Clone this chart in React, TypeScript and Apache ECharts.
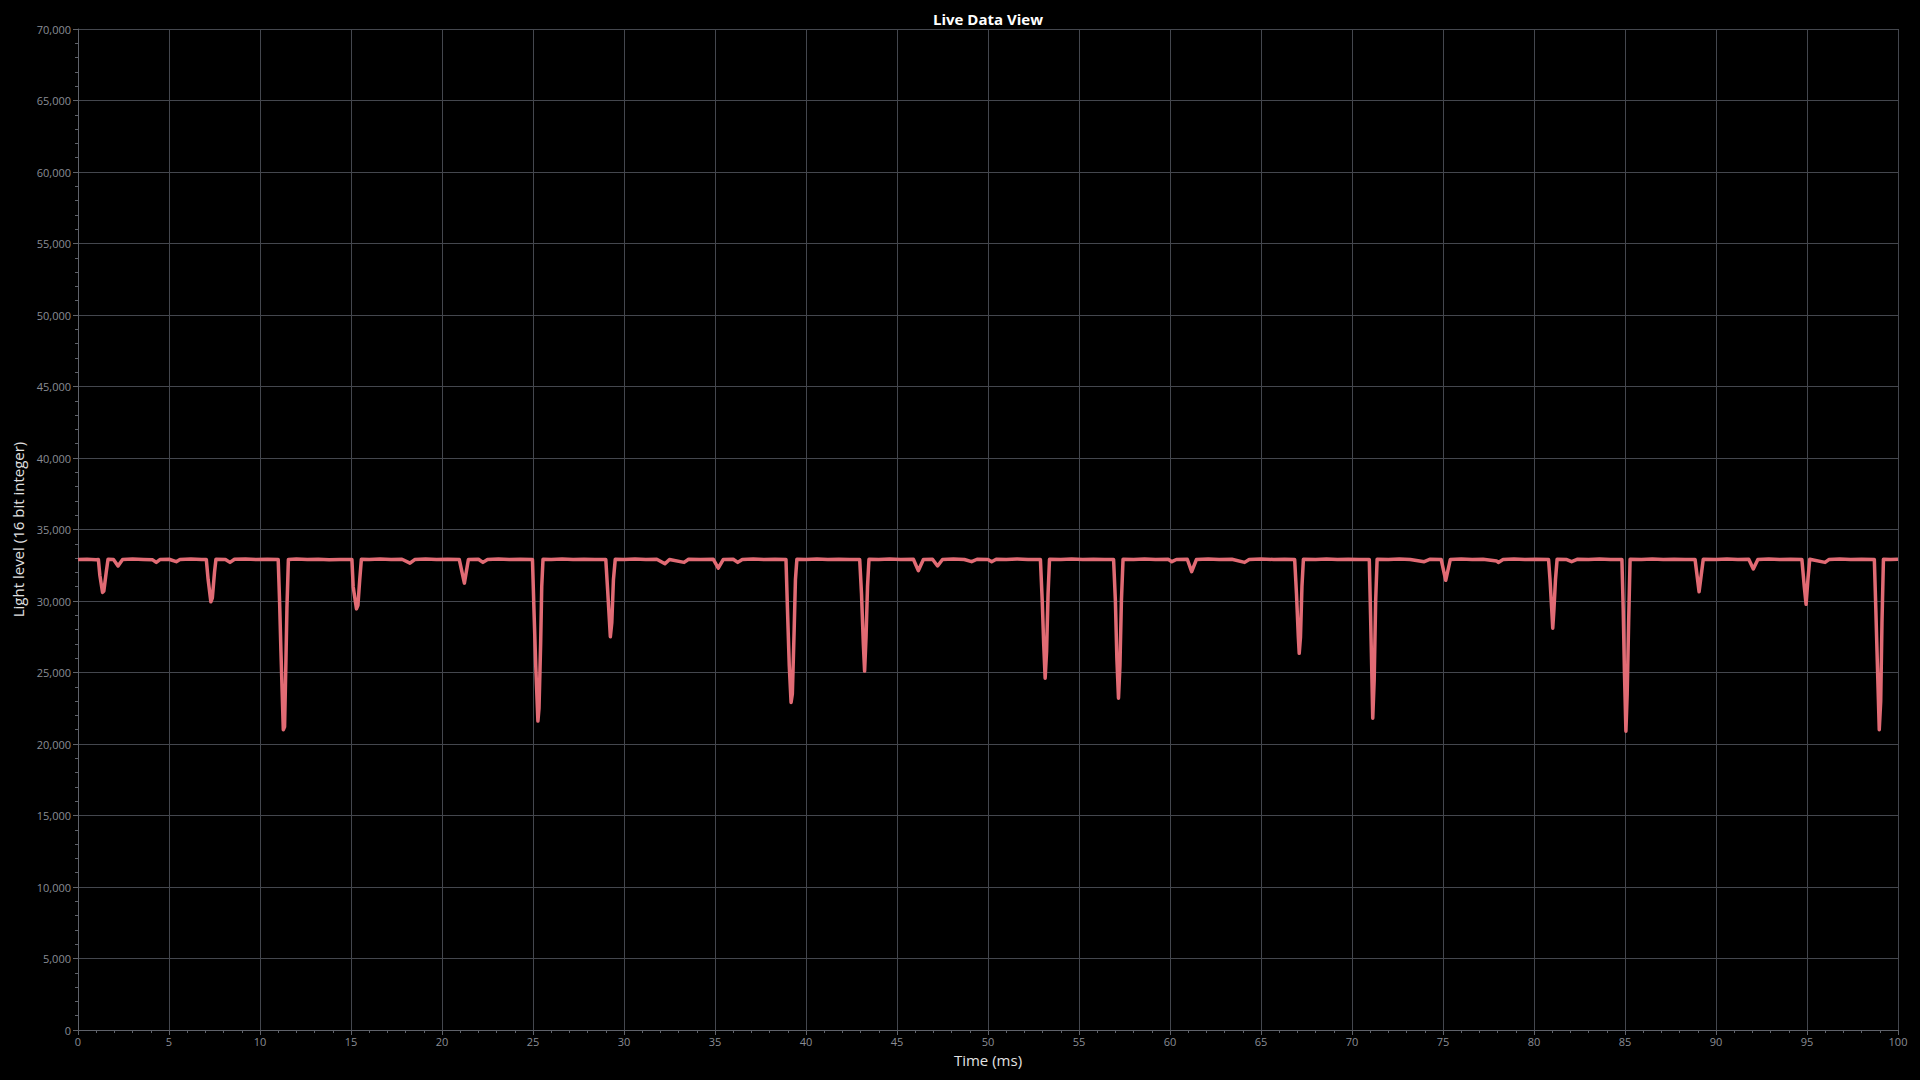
import React, { useEffect, useRef } from "react";
import * as echarts from "echarts";

const chartTitle = "Live Data View";
const xAxisName = "Time (ms)";
const yAxisName = "Light level (16 bit integer)";

// Samples: [time (ms), light level]
const timeMs: number[] = [
  0.0, 0.5, 1.0, 1.12, 1.2, 1.35, 1.42, 1.55, 1.65, 1.95, 2.2, 2.45, 3.0, 3.6, 4.1, 4.3, 4.5, 5.0, 5.4, 5.6,
  6.2, 6.8, 7.05, 7.15, 7.3, 7.38, 7.5, 7.58, 8.1, 8.35, 8.6, 9.2, 9.8, 10.4, 11.0, 11.08, 11.15, 11.28, 11.35, 11.42,
  11.48, 11.56, 12.0, 12.6, 13.2, 13.8, 14.4, 15.05, 15.12, 15.3, 15.38, 15.48, 15.57, 16.0, 16.6, 17.2, 17.8, 18.24, 18.5, 19.1,
  19.7, 20.3, 20.95, 21.23, 21.45, 22.0, 22.25, 22.5, 23.1, 23.7, 24.3, 24.97, 25.05, 25.15, 25.27, 25.33, 25.42, 25.48, 25.55, 26.0,
  26.6, 27.2, 27.8, 28.4, 29.0, 29.1, 29.25, 29.33, 29.42, 29.52, 30.0, 30.6, 31.2, 31.8, 32.25, 32.5, 33.3, 33.55, 34.2, 34.9,
  35.18, 35.45, 36.0, 36.25, 36.5, 37.1, 37.7, 38.3, 38.9, 38.98, 39.08, 39.18, 39.25, 39.35, 39.42, 39.5, 40.0, 40.6, 41.2, 41.8,
  42.4, 42.95, 43.05, 43.15, 43.22, 43.3, 43.38, 43.46, 44.0, 44.6, 45.2, 45.9, 46.17, 46.45, 46.95, 47.23, 47.5, 48.1, 48.7, 49.1,
  49.4, 50.0, 50.2, 50.45, 51.0, 51.6, 52.2, 52.88, 52.98, 53.06, 53.14, 53.22, 53.3, 53.38, 54.0, 54.6, 55.2, 55.8, 56.4, 56.9,
  57.0, 57.08, 57.17, 57.25, 57.33, 57.42, 58.0, 58.6, 59.2, 59.9, 60.1, 60.35, 60.95, 61.19, 61.45, 62.1, 62.7, 63.4, 64.1, 64.35,
  65.0, 65.7, 66.3, 66.85, 66.95, 67.05, 67.1, 67.17, 67.25, 67.33, 68.0, 68.6, 69.2, 69.8, 70.4, 70.95, 71.02, 71.08, 71.14, 71.22,
  71.3, 71.38, 72.0, 72.6, 73.2, 73.97, 74.3, 74.9, 75.15, 75.4, 76.0, 76.6, 77.2, 77.95, 78.04, 78.3, 78.9, 79.5, 80.1, 80.8,
  80.88, 80.97, 81.03, 81.1, 81.18, 81.27, 81.8, 82.07, 82.4, 83.0, 83.6, 84.2, 84.83, 84.9, 84.97, 85.05, 85.12, 85.2, 85.28, 85.9,
  86.5, 87.1, 87.7, 88.3, 88.85, 89.07, 89.3, 90.0, 90.6, 91.2, 91.8, 92.05, 92.3, 92.9, 93.5, 94.1, 94.72, 94.85, 94.95, 95.05,
  95.15, 95.99, 96.2, 96.8, 97.4, 98.0, 98.7, 98.78, 98.88, 98.97, 99.05, 99.12, 99.2, 99.6, 100.0,
];

const lightLevel: number[] = [
  32900, 32920, 32880, 32900, 31800, 30600, 30700, 32000, 32920, 32900, 32450, 32910, 32940, 32900, 32880, 32700, 32900, 32920, 32750, 32900,
  32940, 32900, 32900, 31500, 29950, 30200, 32000, 32920, 32900, 32700, 32920, 32940, 32900, 32920, 32900, 29800, 26500, 21000, 21200, 25500,
  29500, 32900, 32940, 32900, 32920, 32880, 32900, 32900, 31000, 29450, 29700, 31500, 32920, 32900, 32940, 32900, 32920, 32650, 32900, 32940,
  32900, 32920, 32900, 31250, 32900, 32920, 32700, 32900, 32940, 32900, 32920, 32900, 29500, 25500, 21600, 22500, 27000, 31000, 32920, 32900,
  32940, 32900, 32920, 32900, 32900, 30800, 27500, 28500, 31500, 32920, 32900, 32940, 32900, 32920, 32600, 32900, 32700, 32920, 32900, 32920,
  32300, 32900, 32920, 32700, 32900, 32940, 32900, 32920, 32900, 29500, 25500, 22900, 23500, 28000, 31500, 32920, 32900, 32940, 32900, 32920,
  32900, 32900, 30500, 27000, 25100, 27500, 31000, 32920, 32900, 32940, 32900, 32920, 32120, 32900, 32920, 32450, 32900, 32940, 32900, 32750,
  32920, 32900, 32750, 32920, 32900, 32940, 32900, 32900, 30000, 27000, 24600, 26500, 30500, 32920, 32900, 32940, 32900, 32920, 32900, 32900,
  30000, 26000, 23200, 25500, 30000, 32920, 32900, 32940, 32900, 32920, 32750, 32900, 32920, 32050, 32900, 32940, 32900, 32920, 32700, 32900,
  32940, 32900, 32920, 32900, 30500, 27500, 26340, 27500, 31000, 32920, 32900, 32940, 32900, 32920, 32900, 32900, 29000, 25500, 21800, 24500,
  30000, 32920, 32900, 32940, 32900, 32750, 32920, 32900, 31450, 32900, 32940, 32900, 32920, 32800, 32700, 32900, 32940, 32900, 32920, 32900,
  31500, 29500, 28100, 29500, 31500, 32920, 32900, 32750, 32920, 32900, 32940, 32900, 32900, 29500, 25000, 20900, 23500, 28500, 32920, 32900,
  32940, 32900, 32920, 32900, 32900, 30650, 32920, 32900, 32940, 32900, 32920, 32240, 32900, 32940, 32900, 32920, 32900, 31000, 29770, 31500,
  32920, 32700, 32900, 32940, 32900, 32920, 32900, 29500, 25000, 21000, 23000, 28500, 32920, 32900, 32920,
];

const xMin = 0;
const xMax = 100;
const xInterval = 5;
const yMin = 0;
const yMax = 70000;
const yInterval = 5000;

const FONT = "'Open Sans', 'Noto Sans', sans-serif";
const AXIS_COLOR = "#5f626a";
const GRID_COLOR = "#44474e";
const LABEL_COLOR = "#8a8d95";
const LINE_COLOR = "#e16b74";

export default function App() {
  const ref = useRef<HTMLDivElement>(null);

  useEffect(() => {
    if (!ref.current) return;
    const chart = echarts.init(ref.current, null, { renderer: "svg" });
    const data = timeMs.map((t, i) => [t, lightLevel[i]]);
    const commonAxis = {
      axisLine: { show: true, lineStyle: { color: AXIS_COLOR, width: 1 } },
      axisTick: { show: true, length: 5, lineStyle: { color: AXIS_COLOR } },
      minorTick: { show: true, splitNumber: 5, length: 3, lineStyle: { color: AXIS_COLOR } },
      splitLine: { show: true, lineStyle: { color: GRID_COLOR, width: 1 } },
      nameTextStyle: { color: "#e2e2e2", fontSize: 15, fontFamily: FONT },
    };
    chart.setOption({
      animation: false,
      backgroundColor: "#000000",
      title: {
        text: chartTitle,
        left: 983,
        textAlign: "center",
        top: 6,
        textStyle: { color: "#ffffff", fontSize: 15, fontWeight: "bold", fontFamily: FONT },
      },
      grid: { left: 78, right: 22, top: 29, bottom: 50, containLabel: false },
      xAxis: {
        type: "value",
        min: xMin,
        max: xMax,
        interval: xInterval,
        name: xAxisName,
        nameLocation: "middle",
        nameGap: 22,
        ...commonAxis,
        axisLabel: { color: LABEL_COLOR, fontSize: 11, margin: 6, fontFamily: FONT },
      },
      yAxis: {
        type: "value",
        min: yMin,
        max: yMax,
        interval: yInterval,
        name: yAxisName,
        nameLocation: "middle",
        nameGap: 50,
        ...commonAxis,
        axisLabel: {
          color: LABEL_COLOR,
          fontSize: 11,
          margin: 7,
          fontFamily: FONT,
          formatter: (v: number) => v.toLocaleString("en-US"),
        },
      },
      series: [
        {
          type: "line",
          data,
          showSymbol: false,
          lineStyle: { color: LINE_COLOR, width: 3.5, join: "round" },
          itemStyle: { color: LINE_COLOR },
        },
      ],
    });
    return () => chart.dispose();
  }, []);

  return (
    <div
      ref={ref}
      style={{ position: "fixed", left: 0, top: 0, width: 1920, height: 1080, background: "#000" }}
    />
  );
}
